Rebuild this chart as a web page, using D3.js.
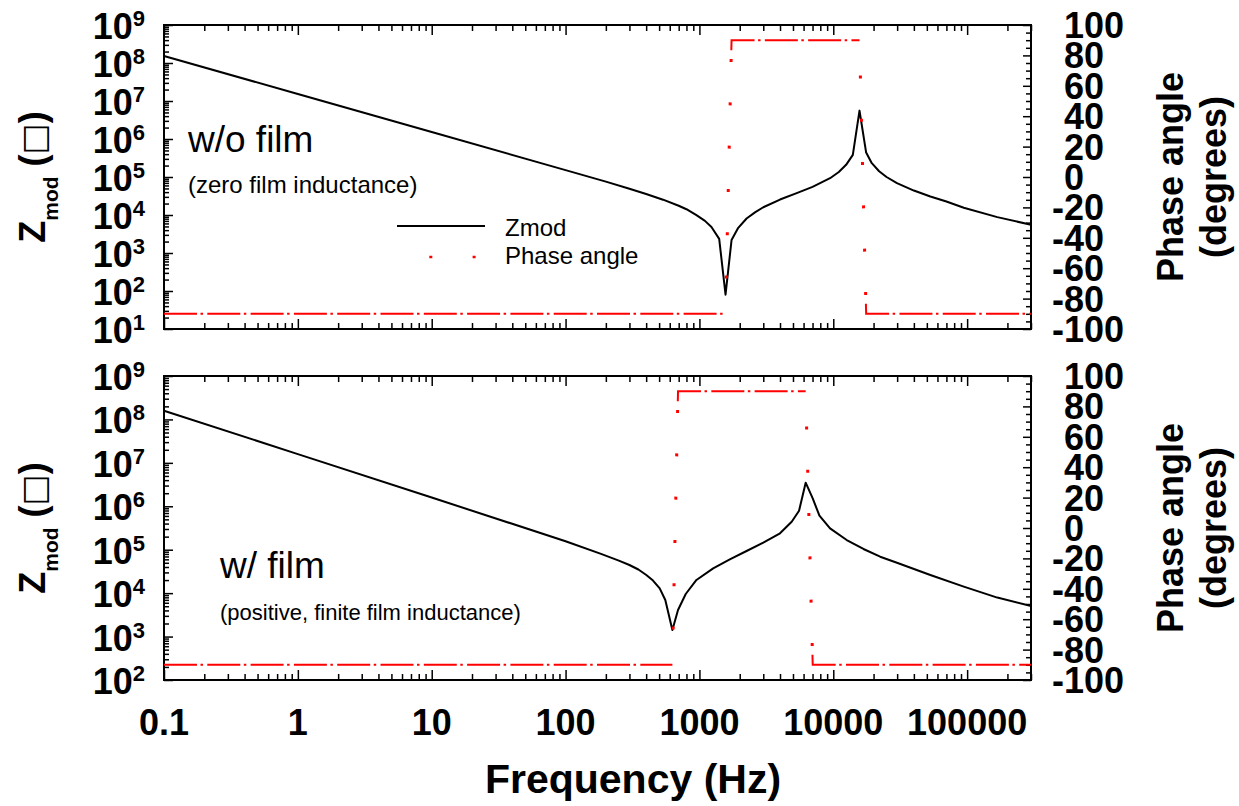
<!DOCTYPE html>
<html><head><meta charset="utf-8">
<script src="https://cdn.jsdelivr.net/npm/d3@7"></script>
<style>
body{margin:0;background:#fff}
text{font-family:"Liberation Sans",Arial,sans-serif;fill:#000}
</style>
</head><body>
<svg id="c" width="1239" height="806"></svg>
<script>
// ---------- data ----------
const freqTicks = [0.1, 1, 10, 100, 1000, 10000, 100000];
const freqTickLabels = ["0.1", "1", "10", "100", "1000", "10000", "100000"];
const phaseTicks = [100, 80, 60, 40, 20, 0, -20, -40, -60, -80, -100];
const topZExponents = [1, 2, 3, 4, 5, 6, 7, 8, 9];
const botZExponents = [2, 3, 4, 5, 6, 7, 8, 9];

// top panel: w/o film  [frequency Hz, |Z| ohm]
const topZmod = [
  [0.1, 1.53e8], [1, 1.53e7], [10, 1.53e6], [100, 1.52e5], [200, 7.55e4],
  [300, 4.93e4], [400, 3.58e4], [535, 2.53e4], [700, 1.75e4], [800, 1.42e4],
  [950, 9.9e3], [1100, 7.0e3], [1230, 4.85e3], [1405, 2.35e3], [1567, 80],
  [1738, 2.2e3], [1950, 4.6e3], [2250, 8.1e3], [2600, 1.17e4], [3000, 1.6e4],
  [4000, 2.55e4], [5330, 3.77e4], [7000, 5.5e4], [9460, 9.3e4], [11000, 1.35e5],
  [12470, 2.09e5], [14000, 3.83e5], [15700, 5.58e6], [17600, 4.4e5], [19400, 2.31e5],
  [22000, 1.42e5], [25000, 1.0e5], [29900, 6.9e4], [40000, 4.4e4], [53100, 3.06e4],
  [70000, 2.26e4], [94400, 1.55e4], [168000, 8.8e3], [300000, 5.52e3]
];
const topPhase = [
  [0.1, -90], [1567, -90], [1738, 90], [15700, 90], [17600, -90], [300000, -90]
];

// bottom panel: w/ film
const botZmod = [
  [0.1, 1.59e8], [1, 1.59e7], [10, 1.59e6], [100, 1.57e5], [184, 8.0e4],
  [250, 5.6e4], [300, 4.45e4], [350, 3.5e4], [401, 2.62e4], [450, 1.95e4],
  [505, 1.29e4], [556, 6.95e3], [628, 1.42e3], [692, 4.1e3], [790, 9.55e3],
  [950, 2.01e4], [1267, 3.73e4], [1687, 6.0e4], [2250, 9.35e4], [3000, 1.45e5],
  [4000, 2.39e5], [4890, 4.42e5], [5550, 7.9e5], [6220, 3.5e6], [7020, 1.52e6],
  [7880, 6.08e5], [9460, 3.1e5], [12600, 1.67e5], [16800, 1.04e5], [22400, 6.9e4],
  [29900, 5.0e4], [53100, 2.62e4], [94400, 1.41e4], [168000, 7.9e3], [300000, 5.06e3]
];
const botPhase = [
  [0.1, -90], [628, -90], [692, 90], [6220, 90], [7020, -90], [300000, -90]
];

// ---------- layout ----------
const svg = d3.select("#c");
const X0 = 164, X1 = 1031;
const x = d3.scaleLog().domain([0.1, 3e5]).range([X0, X1]);

const panels = [
  {top: 25, bottom: 329, zDom: [1e1, 1e9], exps: topZExponents, z: topZmod, ph: topPhase,
   title: "w/o film", tx: 188, ty: 152, sub: "(zero film inductance)", sx: 188, sy: 193, subSize: 24, legend: true},
  {top: 376, bottom: 680, zDom: [1e2, 1e9], exps: botZExponents, z: botZmod, ph: botPhase,
   title: "w/ film", tx: 220, ty: 578, sub: "(positive, finite film inductance)", sx: 220, sy: 620, subSize: 22, legend: false}
];

const PHASE_DASH = "33,3.5,2.5,4.3";
const DOT_DASH = "3,40.3";

function ticks(g, axisFn, scale, values, size, tr) {
  g.append("g").attr("transform", tr)
    .call(axisFn(scale).tickValues(values).tickSize(size).tickFormat(""))
    .call(s => s.select(".domain").remove())
    .call(s => s.selectAll("line").attr("stroke", "#000").attr("stroke-width", 1.5));
}

panels.forEach(p => {
  const g = svg.append("g");
  const y = d3.scaleLog().domain(p.zDom).range([p.bottom, p.top]);
  const yp = d3.scaleLinear().domain([-100, 100]).range([p.bottom, p.top]);

  // x ticks
  const xt = x.ticks();
  const isPow = v => Math.abs(Math.log10(v) - Math.round(Math.log10(v))) < 1e-9;
  const xMajor = xt.filter(isPow);
  const xMinor = xt.filter(v => !isPow(v));
  ticks(g, d3.axisBottom, x, xMajor, -10, `translate(0,${p.bottom})`);
  ticks(g, d3.axisBottom, x, xMinor, -6, `translate(0,${p.bottom})`);
  ticks(g, d3.axisTop, x, xMajor, -10, `translate(0,${p.top})`);
  ticks(g, d3.axisTop, x, xMinor, -6, `translate(0,${p.top})`);

  // left log ticks
  const yt = y.ticks();
  ticks(g, d3.axisLeft, y, yt.filter(isPow), -9, `translate(${X0},0)`);
  ticks(g, d3.axisLeft, y, yt.filter(v => !isPow(v)), -5, `translate(${X0},0)`);

  // right phase ticks
  const pAll = d3.range(-100, 101, 5);
  ticks(g, d3.axisRight, yp, pAll.filter(v => v % 20 === 0), -8, `translate(${X1},0)`);
  ticks(g, d3.axisRight, yp, pAll.filter(v => v % 20 !== 0), -5, `translate(${X1},0)`);

  // frame
  g.append("rect").attr("x", X0).attr("y", p.top).attr("width", X1 - X0).attr("height", p.bottom - p.top)
    .attr("fill", "none").attr("stroke", "#000").attr("stroke-width", 2);

  // left labels 10^n
  p.exps.forEach(e => {
    const t = g.append("text").attr("x", 145).attr("y", y(Math.pow(10, e)) + 14)
      .attr("text-anchor", "end").attr("font-weight", "bold").attr("font-size", 36);
    t.append("tspan").text("10");
    t.append("tspan").attr("font-size", 22).attr("dy", -13).text(String(e));
  });

  // right labels (digits left-aligned, minus sign hanging to the left)
  phaseTicks.forEach(v => {
    g.append("text").attr("x", v < 0 ? 1052 : 1064).attr("y", yp(v) + 13)
      .attr("font-weight", "bold").attr("font-size", 36).text(String(v));
  });

  // Z_mod line
  const line = d3.line().x(d => x(d[0])).y(d => y(d[1]));
  g.append("path").datum(p.z).attr("d", line).attr("fill", "none")
    .attr("stroke", "#000").attr("stroke-width", 2).attr("stroke-linejoin", "round");

  // phase line: horizontal runs dash-dot, jumps dotted
  const pts = p.ph.map(d => [x(d[0]), yp(d[1])]);
  const runs = [], jumps = [];
  let run = [pts[0]];
  for (let i = 1; i < pts.length; i++) {
    if (Math.abs(p.ph[i][1] - p.ph[i - 1][1]) > 90) {
      runs.push(run);
      const a = pts[i - 1], b = pts[i];
      jumps.push([a, b]);
      const L = Math.hypot(b[0] - a[0], b[1] - a[1]);
      const t = 1 - 10 / L;
      run = [[a[0] + (b[0] - a[0]) * t, a[1] + (b[1] - a[1]) * t], b];
    } else run.push(pts[i]);
  }
  runs.push(run);
  const pl = d3.line();
  runs.forEach(r => g.append("path").attr("d", pl(r)).attr("fill", "none").attr("stroke", "red")
    .attr("stroke-width", 2).attr("stroke-dasharray", PHASE_DASH));
  jumps.forEach(j => g.append("path").attr("d", pl(j)).attr("fill", "none").attr("stroke", "red")
    .attr("stroke-width", 3).attr("stroke-dasharray", DOT_DASH).attr("stroke-dashoffset", 8));

  // annotations
  g.append("text").attr("x", p.tx).attr("y", p.ty).attr("font-size", 37).text(p.title);
  g.append("text").attr("x", p.sx).attr("y", p.sy).attr("font-size", p.subSize).text(p.sub);

  // left axis title
  const cy = (p.top + p.bottom) / 2;
  const lt = g.append("text").attr("transform", `translate(45,${cy}) rotate(-90)`)
    .attr("text-anchor", "middle").attr("font-weight", "bold").attr("font-size", 36);
  lt.append("tspan").text("Z");
  lt.append("tspan").attr("font-size", 21).attr("dy", 13).text("mod");
  lt.append("tspan").attr("dy", -13).text(" (");
  lt.append("tspan").attr("font-weight", "normal").attr("font-family", "DejaVu Sans").attr("font-size", 33).text("\u25A1");
  lt.append("tspan").text(")");

  // right axis title
  g.append("text").attr("transform", `translate(1183,${cy}) rotate(-90)`).attr("text-anchor", "middle")
    .attr("font-weight", "bold").attr("font-size", 36).text("Phase angle");
  g.append("text").attr("transform", `translate(1226,${cy}) rotate(-90)`).attr("text-anchor", "middle")
    .attr("font-weight", "bold").attr("font-size", 36).text("(degrees)");

  if (p.legend) {
    const lg = svg.append("g");
    lg.append("line").attr("x1", 397).attr("x2", 485).attr("y1", 226).attr("y2", 226)
      .attr("stroke", "#000").attr("stroke-width", 2);
    lg.append("text").attr("x", 505).attr("y", 236).attr("font-size", 24).text("Zmod");
    lg.append("line").attr("x1", 397).attr("x2", 485).attr("y1", 257).attr("y2", 257)
      .attr("stroke", "red").attr("stroke-width", 2.6).attr("stroke-dasharray", DOT_DASH).attr("stroke-dashoffset", 11);
    lg.append("text").attr("x", 505).attr("y", 264).attr("font-size", 24).text("Phase angle");
  }
});

// x tick labels
freqTicks.forEach((f, i) => {
  svg.append("text").attr("x", x(f)).attr("y", 735).attr("text-anchor", "middle")
    .attr("font-weight", "bold").attr("font-size", 36).text(freqTickLabels[i]);
});
svg.append("text").attr("x", 633).attr("y", 793).attr("text-anchor", "middle")
  .attr("font-weight", "bold").attr("font-size", 41).text("Frequency (Hz)");
</script>
</body></html>
